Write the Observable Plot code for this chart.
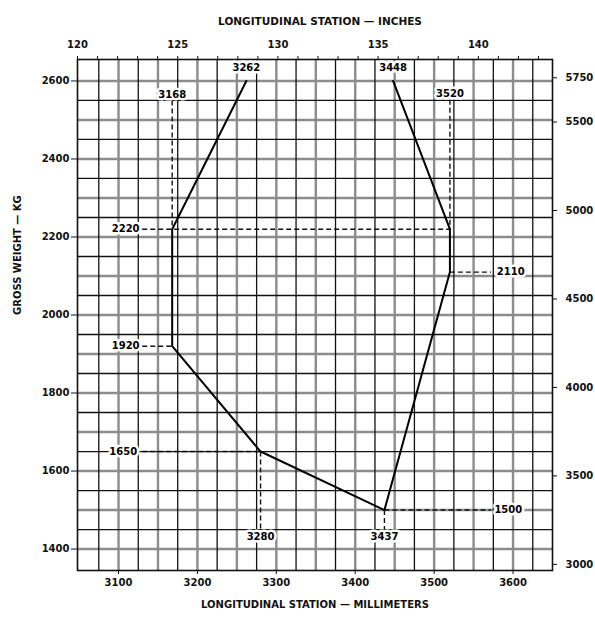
<!DOCTYPE html>
<html>
<head>
<meta charset="utf-8">
<script src="https://cdn.jsdelivr.net/npm/d3@7"></script>
<script src="https://cdn.jsdelivr.net/npm/@observablehq/plot@0.6"></script>
<style>
  html, body { margin: 0; padding: 0; background: #fff; }
  #chart { width: 595px; height: 617px; }
</style>
</head>
<body>
<div id="chart"></div>
<script>
// ---- Data ----
// Bottom axis: longitudinal station, millimetres
const mmTicks = [3100, 3200, 3300, 3400, 3500, 3600];
// Top axis: longitudinal station, inches
const inchTicks = [120,121,122,123,124,125,126,127,128,129,130,131,132,133,134,135,136,137,138,139,140,141,142,143];
const inchLabels = [120, 125, 130, 135, 140];
// Left axis: gross weight, kg
const kgTicks = [1400, 1600, 1800, 2000, 2200, 2400, 2600];
// Right axis: gross weight, pounds
const lbTicks = [3000, 3500, 4000, 4500, 5000, 5500, 5750];
// Grid lines
const gridMm = [3075,3100,3125,3150,3175,3200,3225,3250,3275,3300,3325,3350,3375,3400,3425,3450,3475,3500,3525,3550,3575,3600,3625];
const gridKg = [1400,1450,1500,1550,1600,1650,1700,1750,1800,1850,1900,1950,2000,2050,2100,2150,2200,2250,2300,2350,2400,2450,2500,2550,2600];
// CG envelope
const envMm = [3262, 3168, 3168, 3280, 3437, 3520, 3520, 3448];
const envKg = [2600, 2220, 1920, 1650, 1500, 2110, 2220, 2600];
// Station callouts
const stationText = ["3262", "3168", "3448", "3520", "3280", "3437"];
const stationMm   = [3262, 3168, 3448, 3520, 3280, 3437];
const stationKg   = [2634, 2565, 2634, 2568, 1432, 1432];
// Weight callouts
const weightText = ["2220", "1920", "1650", "1500", "2110"];
const weightMm   = [3109, 3109, 3106, 3594, 3597];
const weightKg   = [2220, 1920, 1650, 1500, 2110];
// Dashed leader lines (mm1, kg1) -> (mm2, kg2)
const leadMm1 = [3168, 3520, 3130, 3130, 3130, 3280, 3437, 3437, 3520];
const leadKg1 = [2550, 2552, 2220, 1920, 1650, 1650, 1500, 1500, 2110];
const leadMm2 = [3168, 3520, 3520, 3168, 3280, 3280, 3437, 3572, 3572];
const leadKg2 = [2220, 2220, 2220, 1920, 1650, 1445, 1445, 1500, 2110];

const LB = 0.45359237;

const envelope = envMm.map((m, i) => ({mm: m, kg: envKg[i]}));
const stations = stationText.map((t, i) => ({t, mm: stationMm[i], kg: stationKg[i]}));
const weights = weightText.map((t, i) => ({t, mm: weightMm[i], kg: weightKg[i]}));
const leaders = leadMm1.map((m, i) => ({x1: m, y1: leadKg1[i], x2: leadMm2[i], y2: leadKg2[i]}));

const gridMmMajor = gridMm.filter(d => d % 50 === 0);
const gridMmMinor = gridMm.filter(d => d % 50 !== 0);
const gridKgMajor = gridKg.filter(d => d % 100 === 0);
const gridKgMinor = gridKg.filter(d => d % 100 !== 0);

const chart = Plot.plot({
  width: 595,
  height: 617,
  marginLeft: 77,
  marginRight: 43,
  marginTop: 59,
  marginBottom: 47,
  style: {fontFamily: "DejaVu Sans", fontWeight: "bold", fontSize: "10px", background: "#fff", color: "#111"},
  x: {domain: [3048, 3650]},
  y: {domain: [1345, 2655]},
  marks: [
    // grid
    Plot.ruleX(gridMmMajor, {stroke: "#8c8c8c", strokeWidth: 2.4}),
    Plot.ruleY(gridKgMajor, {stroke: "#8c8c8c", strokeWidth: 2.4}),
    Plot.ruleX(gridMmMinor, {stroke: "#111", strokeWidth: 1.3}),
    Plot.ruleY(gridKgMinor, {stroke: "#111", strokeWidth: 1.3}),
    Plot.frame({stroke: "#111", strokeWidth: 1.6}),
    // axes
    Plot.axisX({anchor: "bottom", ticks: mmTicks, tickFormat: d => String(d), tickSize: 4, tickPadding: 4, label: null}),
    Plot.axisX({anchor: "top", ticks: inchTicks.map(d => d * 25.4), tickFormat: (d) => {
      const inch = Math.round(d / 25.4);
      return inchLabels.includes(inch) ? String(inch) : "";
    }, tickSize: 4, tickPadding: 8, label: null}),
    Plot.axisY({anchor: "left", ticks: kgTicks, tickFormat: d => String(d), tickSize: 6, tickPadding: 2, label: null}),
    Plot.axisY({anchor: "right", ticks: lbTicks.map(d => d * LB), tickFormat: d => String(Math.round(d / LB)), tickSize: 4, tickPadding: 9, label: null}),
    // leaders
    Plot.link(leaders, {x1: "x1", y1: "y1", x2: "x2", y2: "y2", stroke: "#111", strokeWidth: 1.4, strokeDasharray: "5,3"}),
    // envelope
    Plot.line(envelope, {x: "mm", y: "kg", stroke: "#000", strokeWidth: 2}),
    // callouts
    Plot.text(stations, {x: "mm", y: "kg", text: "t", fill: "#000", stroke: "#fff", strokeWidth: 5, fontSize: 10}),
    Plot.text(weights, {x: "mm", y: "kg", text: "t", fill: "#000", stroke: "#fff", strokeWidth: 5, fontSize: 10}),
    // titles
    Plot.text(["LONGITUDINAL STATION \u2014 INCHES"], {text: d => d, frameAnchor: "top", dy: -42, dx: 5, fontSize: 10.5}),
    Plot.text(["LONGITUDINAL STATION \u2014 MILLIMETERS"], {text: d => d, frameAnchor: "bottom", dy: 37, fontSize: 10}),
    Plot.text(["GROSS WEIGHT \u2014 KG"], {text: d => d, frameAnchor: "left", dx: -60, rotate: -90, fontSize: 10})
  ]
});
document.getElementById("chart").appendChild(chart);
</script>
</body>
</html>
